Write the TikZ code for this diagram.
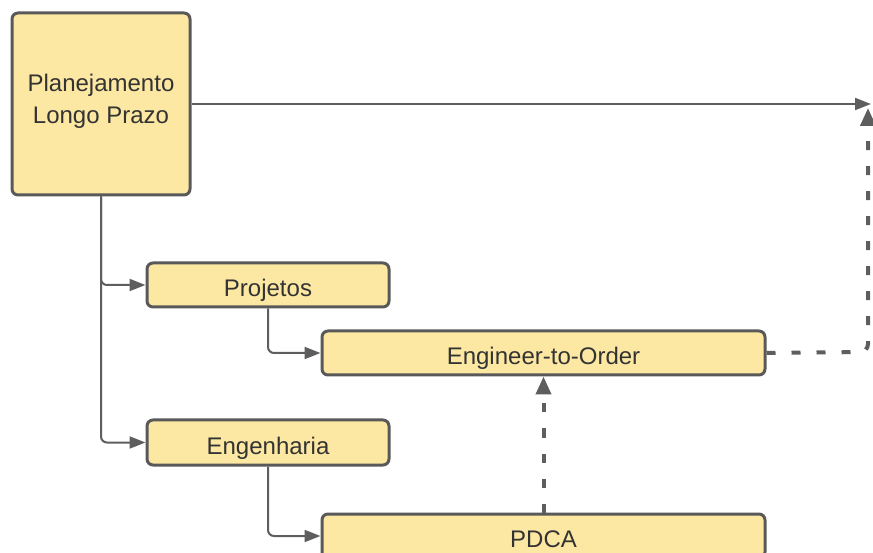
\documentclass[tikz,border=0pt]{standalone}
\usepackage{fontspec}
\setmainfont{Liberation Sans}
\usetikzlibrary{arrows.meta}
\definecolor{boxfill}{HTML}{FCE8A2}
\definecolor{boxline}{HTML}{595959}
\definecolor{txt}{HTML}{333333}
\definecolor{wire}{HTML}{5E5E5E}
\tikzset{
  box/.style={draw=boxline, fill=boxfill, line width=3pt, rounded corners=6pt,
    text=txt, font=\fontsize{24}{32}\selectfont, align=center, inner sep=0pt},
  onerow/.style={text height=23pt, text depth=0pt},
  caption/.style={text=txt, font=\fontsize{24}{32}\selectfont, align=center, inner sep=0pt},
  link/.style={draw=wire, line width=2pt, rounded corners=6pt,
    -{Triangle[length=16pt,width=12pt]}},
  dlink/.style={draw=wire, line width=4pt, dash pattern=on 9pt off 16pt,
    rounded corners=8pt, -{Triangle[length=18pt,width=15pt]}}
}
\begin{document}
\begin{tikzpicture}[x=1pt,y=1pt]
  \useasboundingbox (0,0) rectangle (873,552);
  \clip (0,0) rectangle (873,552);

  % boxes
  \node[box, minimum width=178pt, minimum height=182pt] (plan) at (101,448) {};
  \node[caption] (plantext) at ([yshift=3pt]plan.center) {Planejamento\\Longo Prazo};
  \node[box, onerow, minimum width=242pt, minimum height=44pt] (proj) at (268,267) {Projetos};
  \node[box, onerow, minimum width=443pt, minimum height=44pt] (eto) at (543.5,199) {Engineer-to-Order};
  \node[box, onerow, minimum width=242pt, minimum height=45pt] (eng) at (268,109.5) {Engenharia};
  \node[box, onerow, minimum width=443pt, minimum height=44pt] (pdca) at (543.5,16) {PDCA};

  % free ends on the right edge
  \coordinate (tip) at (871,448);
  \coordinate (bend) at (868,200);
  \coordinate (dtip) at (868,444);

  % solid connectors
  \draw[link] (plan.east) -- (tip);
  \draw[link] (plan.south) |- (proj.west);
  \draw[link] (plan.south) |- (eng.west);
  \draw[link] (proj.south) |- (eto.west);
  \draw[link] (eng.south) |- (pdca.west);

  % dashed connectors
  \draw[dlink] (pdca.north) -- (eto.south);
  \draw[dlink] (eto.east) -- (bend) -- (dtip);
\end{tikzpicture}
\end{document}
